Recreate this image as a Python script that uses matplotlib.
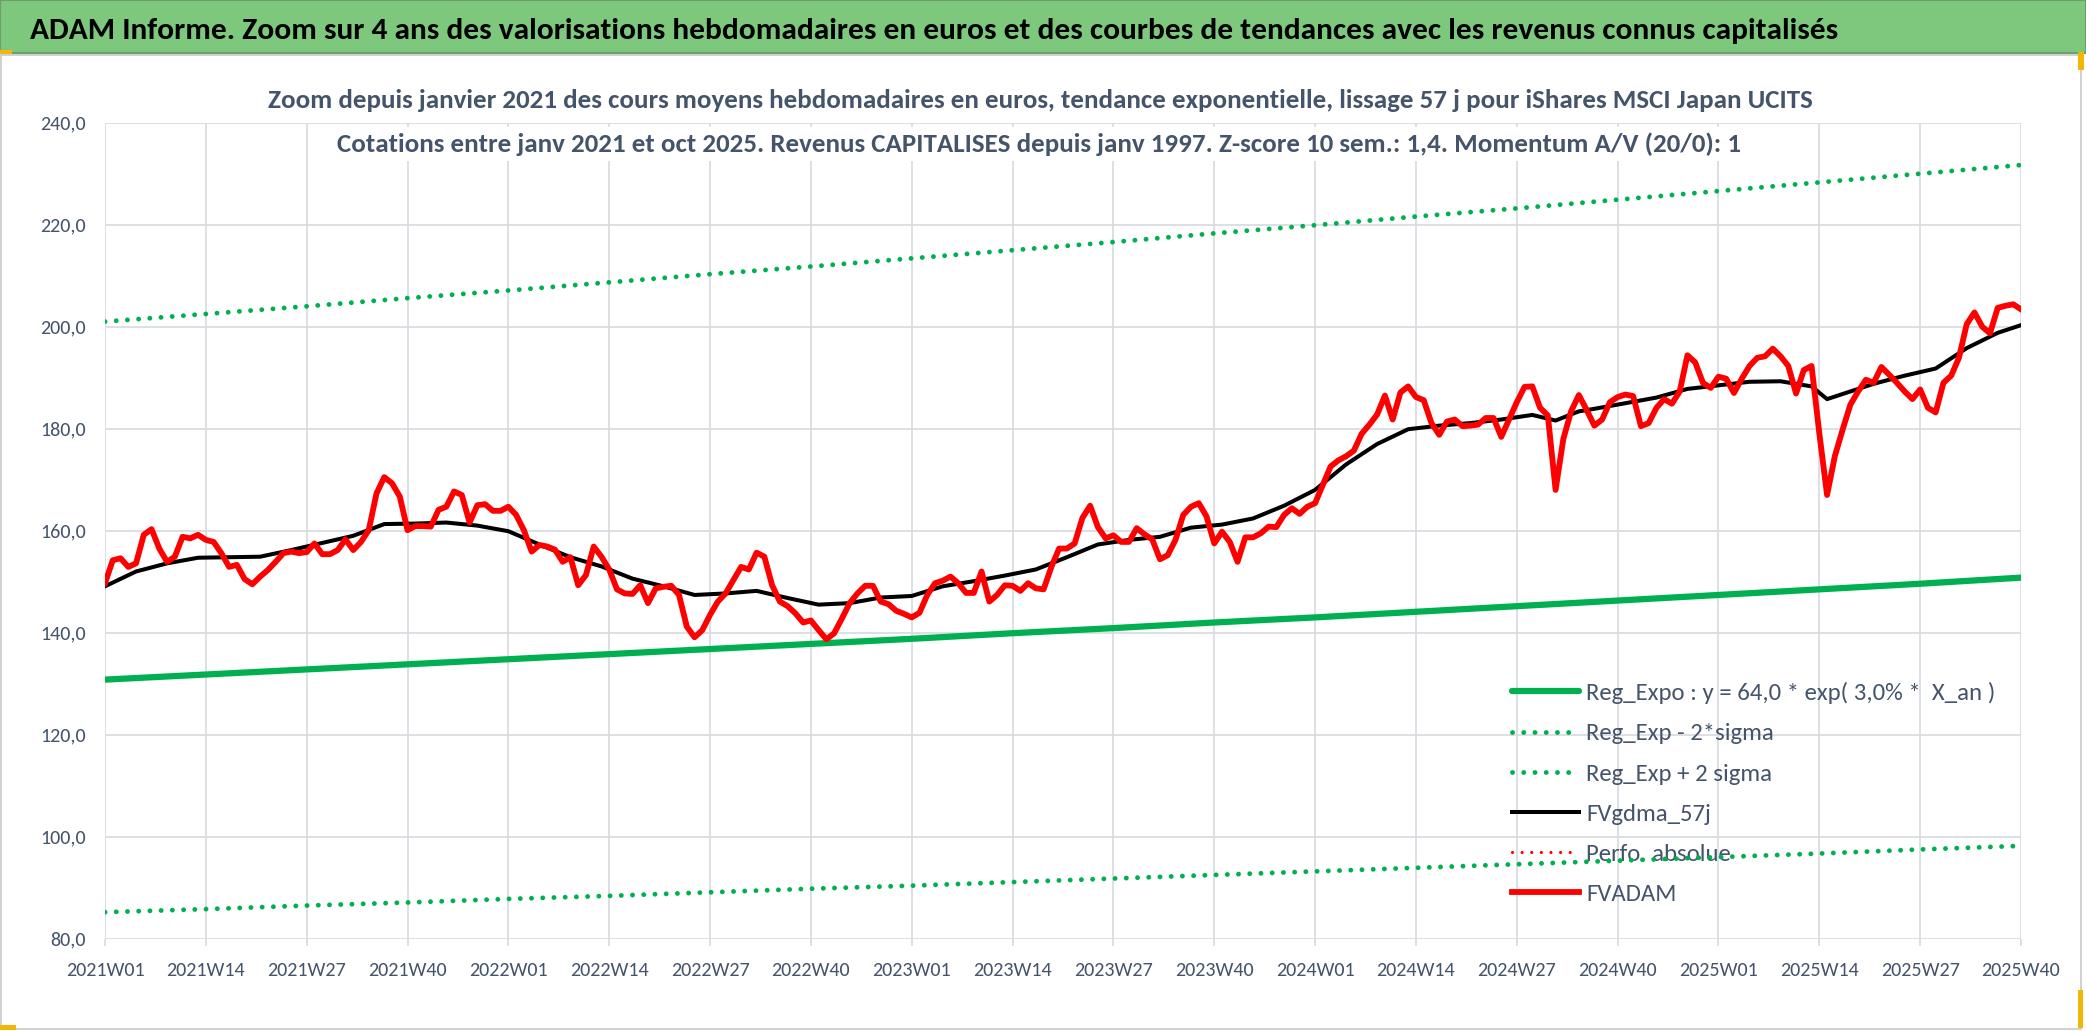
import numpy as np
import matplotlib
matplotlib.use('Agg')
import matplotlib.pyplot as plt
from matplotlib import font_manager as fm
from matplotlib.patches import Rectangle
from matplotlib.ticker import FixedLocator, FuncFormatter

# ---- data (weekly, 2021W01 .. 2025W40) ----
tick_labels = ['2021W01', '2021W14', '2021W27', '2021W40', '2022W01', '2022W14',
               '2022W27', '2022W40', '2023W01', '2023W14', '2023W27', '2023W40',
               '2024W01', '2024W14', '2024W27', '2024W40', '2025W01', '2025W14',
               '2025W27', '2025W40']
tick_step = 13

fvadam = [
    149.7, 154.2, 154.6, 152.9, 153.6, 159.2, 160.3, 156.5, 153.9, 154.9,
    158.8, 158.5, 159.2, 158.2, 157.8, 155.6, 152.9, 153.3, 150.5, 149.5,
    151.0, 152.3, 153.9, 155.6, 155.9, 155.6, 155.8, 157.5, 155.4, 155.4,
    156.2, 158.3, 156.2, 157.8, 160.1, 167.3, 170.5, 169.3, 166.7, 160.1,
    160.9, 160.9, 160.8, 164.1, 164.7, 167.7, 167.0, 161.6, 165.0, 165.2,
    163.9, 163.9, 164.7, 163.1, 160.1, 155.9, 157.2, 156.9, 156.3, 153.9,
    154.8, 149.3, 151.3, 156.9, 154.9, 152.4, 148.5, 147.7, 147.6, 149.3,
    145.8, 148.7, 149.0, 149.2, 147.4, 141.2, 139.1, 140.5, 143.5, 146.1,
    147.7, 150.3, 152.9, 152.4, 155.7, 154.9, 149.3, 146.1, 145.2, 143.8,
    142.0, 142.4, 140.5, 138.7, 139.9, 142.8, 145.8, 147.7, 149.2, 149.2,
    146.1, 145.6, 144.3, 143.7, 143.0, 143.9, 147.4, 149.7, 150.2, 151.0,
    149.7, 147.8, 147.8, 152.0, 146.1, 147.4, 149.3, 149.2, 148.2, 149.7,
    148.7, 148.5, 152.9, 156.5, 156.5, 157.5, 162.5, 164.9, 160.7, 158.5,
    159.1, 157.8, 157.8, 160.5, 159.3, 158.3, 154.4, 155.2, 158.2, 163.1,
    164.7, 165.4, 162.8, 157.5, 159.8, 157.8, 153.9, 158.7, 158.7, 159.5,
    160.8, 160.7, 163.1, 164.4, 163.3, 164.7, 165.4, 169.0, 172.6, 173.8,
    174.6, 175.7, 179.0, 180.8, 182.8, 186.5, 181.8, 187.1, 188.3, 186.2,
    185.6, 181.1, 178.8, 181.4, 181.8, 180.5, 180.6, 180.8, 182.1, 182.1,
    178.4, 181.8, 185.2, 188.2, 188.3, 184.1, 182.6, 168.0, 178.0, 183.4,
    186.6, 183.7, 180.6, 181.8, 185.2, 186.2, 186.7, 186.4, 180.5, 181.1,
    184.1, 185.8, 184.9, 187.3, 194.4, 193.0, 189.0, 188.0, 190.2, 189.8,
    187.0, 189.8, 192.3, 193.9, 194.2, 195.7, 194.2, 192.3, 186.9, 191.5,
    192.3, 179.1, 167.0, 174.6, 179.8, 184.7, 187.3, 189.6, 189.0, 192.1,
    190.6, 189.0, 187.3, 185.8, 187.7, 184.1, 183.2, 189.0, 190.4, 193.9,
    200.5, 202.8, 200.0, 198.7, 203.7, 204.1, 204.4, 203.4,
]

# smoothed curve, read every few weeks
gdma_week = [0, 4, 8, 12, 16, 20, 24, 28, 32, 36, 40, 44, 48, 52, 56, 60, 64, 68,
             72, 76, 80, 84, 88, 92, 96, 100, 104, 108, 112, 116, 120, 124, 128,
             132, 136, 140, 144, 148, 152, 156, 160, 164, 168, 172, 176, 180, 184,
             187, 190, 192, 196, 200, 204, 208, 212, 216, 220, 222, 224, 228, 232,
             236, 240, 244, 247]
gdma_value = [149.1, 152.0, 153.6, 154.7, 154.8, 154.9, 156.2, 157.6, 159.0, 161.3,
              161.4, 161.6, 161.0, 159.9, 157.3, 154.8, 153.0, 150.6, 149.1, 147.4,
              147.7, 148.2, 146.8, 145.5, 145.8, 146.9, 147.2, 149.1, 150.1, 151.2,
              152.4, 154.8, 157.3, 158.2, 158.8, 160.6, 161.2, 162.4, 164.9, 168.0,
              173.0, 177.0, 179.9, 180.6, 181.1, 181.8, 182.7, 181.6, 183.4, 183.9,
              185.0, 186.1, 187.8, 188.5, 189.2, 189.3, 188.3, 185.8, 186.8, 188.8,
              190.4, 191.8, 195.8, 198.8, 200.3]

# trend lines read at each labelled week
reg_expo = [130.8, 131.8, 132.8, 133.8, 134.8, 135.8, 136.8, 137.8, 138.8, 139.9,
            140.9, 142.0, 143.0, 144.1, 145.2, 146.3, 147.4, 148.5, 149.6, 150.8]
reg_minus = [85.2, 85.8, 86.5, 87.1, 87.8, 88.4, 89.1, 89.8, 90.4, 91.1,
             91.8, 92.5, 93.2, 93.9, 94.6, 95.3, 96.0, 96.7, 97.5, 98.2]
reg_plus = [201.0, 202.5, 204.0, 205.6, 207.1, 208.7, 210.3, 211.8, 213.4, 215.0,
            216.6, 218.3, 219.9, 221.6, 223.2, 224.9, 226.6, 228.3, 230.0, 231.7]

series_labels = ['Reg_Expo : y = 64,0 * exp( 3,0% *  X_an )', 'Reg_Exp - 2*sigma',
                 'Reg_Exp + 2 sigma', 'FVgdma_57j', 'Perfo. absolue', 'FVADAM']

title = ("ADAM Informe. Zoom sur 4 ans des valorisations hebdomadaires en euros "
         "et des courbes de tendances avec les revenus connus capitalisés")
sub1 = ("Zoom depuis janvier 2021 des cours moyens hebdomadaires en euros, tendance "
        "exponentielle, lissage 57 j pour iShares MSCI Japan UCITS")
sub2 = ("Cotations entre janv 2021 et oct 2025. Revenus CAPITALISES depuis janv 1997. "
        "Z-score 10 sem.: 1,4. Momentum A/V (20/0): 1")


def pick_font():
    fonts = fm.fontManager.ttflist
    for name in ['Liberation Sans Narrow', 'Arial Narrow', 'Carlito',
                 'Open Sans Condensed', 'Roboto Condensed']:
        if any(f.name == name for f in fonts):
            return name, 'normal'
    if any(f.name == 'DejaVu Sans' and 'condensed' in str(f.stretch) for f in fonts):
        return 'DejaVu Sans', 'condensed'
    return 'Liberation Sans', 'normal'


FAMILY, STRETCH = pick_font()
plt.rcParams['font.family'] = [FAMILY, 'DejaVu Sans']
plt.rcParams['font.stretch'] = STRETCH

W, H = 2086, 1031
TXT = '#44546A'
GRID = '#D9DDE3'
GREEN = '#00B050'
RED = '#FF0000'

fig = plt.figure(figsize=(W / 100, H / 100), dpi=100)
fig.patch.set_facecolor('white')
renderer = fig.canvas.get_renderer()


def size_for(s, target_px, weight='normal', base=20.0):
    # font size that gives the text the width it has in the reference
    t = fig.text(0, 0, s, fontsize=base, fontweight=weight)
    w = t.get_window_extent(renderer).width
    t.remove()
    return base * target_px / w


def fig_rect(x0, y0, w, h, **kw):
    # rectangle given in pixels from the top-left corner
    fig.patches.append(Rectangle((x0 / W, 1 - (y0 + h) / H), w / W, h / H,
                                 transform=fig.transFigure, **kw))


# banner, frame and the small selection marks
fig_rect(0, 0, W, 53, facecolor='#7DC87D', edgecolor='#6E9E6E', lw=1.5, zorder=0)
fig_rect(1, 55, W - 6, H - 57, facecolor='none', edgecolor='#C8C8C8', lw=1.2, zorder=0)
fig_rect(0, 1025, 16, 5, facecolor='#F2B705', edgecolor='none', zorder=1)
fig_rect(2078, 52, 6, 18, facecolor='#F2B705', edgecolor='none', zorder=1)
fig_rect(2078, 990, 5, 38, facecolor='#F2B705', edgecolor='none', zorder=1)
fig_rect(0, 50, 12, 4, facecolor='#F2B705', edgecolor='none', zorder=1)

fig.text(30 / W, 1 - 31 / H, title, fontsize=size_for(title, 1808, 'bold'),
         fontweight='bold', color='black', ha='left', va='center')

tick_fs = size_for('2025W40', 79)
leg_fs = size_for(series_labels[0], 409)

ax = fig.add_axes([105 / W, 1 - 938.7 / H, 1916 / W, 816 / H])
x = np.arange(len(fvadam))
tick_pos = np.arange(len(tick_labels)) * tick_step
dots = (0, (0.01, 2.3))

ax.plot(tick_pos, reg_expo, color=GREEN, lw=4.5, solid_capstyle='round', zorder=3,
        label=series_labels[0])
ax.plot(tick_pos, reg_minus, color=GREEN, lw=3.5, linestyle=dots,
        dash_capstyle='round', zorder=3, label=series_labels[1])
ax.plot(tick_pos, reg_plus, color=GREEN, lw=3.5, linestyle=dots,
        dash_capstyle='round', zorder=3, label=series_labels[2])
ax.plot(gdma_week, gdma_value, color='black', lw=2.9, zorder=4, label=series_labels[3])
ax.plot([], [], color=RED, lw=2.3, linestyle=(0, (0.01, 3.0)),
        dash_capstyle='round', label=series_labels[4])
ax.plot(x, fvadam, color=RED, lw=4.2, solid_joinstyle='round', zorder=5,
        label=series_labels[5])

ax.set_xlim(0, len(fvadam) - 1)
ax.set_ylim(80, 240)
ax.xaxis.set_major_locator(FixedLocator(tick_pos))
ax.set_xticklabels(tick_labels)
ax.yaxis.set_major_locator(FixedLocator(np.arange(80, 241, 20)))
ax.yaxis.set_major_formatter(FuncFormatter(lambda v, p: f"{v:.1f}".replace('.', ',')))
ax.grid(True, color=GRID, lw=1.3)
ax.set_axisbelow(True)
for s in ax.spines.values():
    s.set_visible(False)
ax.tick_params(axis='x', length=5, width=1.3, color=GRID, labelsize=tick_fs,
               labelcolor=TXT, pad=12)
ax.tick_params(axis='y', length=0, labelsize=tick_fs, labelcolor=TXT, pad=14)

leg = ax.legend(loc='upper left', bbox_to_anchor=(1512 / W, 1 - 682 / H),
                bbox_transform=fig.transFigure, frameon=False, fontsize=leg_fs,
                handlelength=2.7, handletextpad=0.28, labelspacing=0.76,
                borderaxespad=0, borderpad=0)
for t in leg.get_texts():
    t.set_color(TXT)
leg.set_zorder(2)

box = dict(facecolor='white', edgecolor='none', pad=4)
fig.text(1040 / W, 1 - 100 / H, sub1, fontsize=size_for(sub1, 1546, 'bold'),
         fontweight='bold', color=TXT, ha='center', va='center', bbox=box, zorder=5)
fig.text(1039 / W, 1 - 144 / H, sub2, fontsize=size_for(sub2, 1402, 'bold'),
         fontweight='bold', color=TXT, ha='center', va='center', bbox=box, zorder=5)

fig.savefig('out.png', dpi=100, facecolor='white')
